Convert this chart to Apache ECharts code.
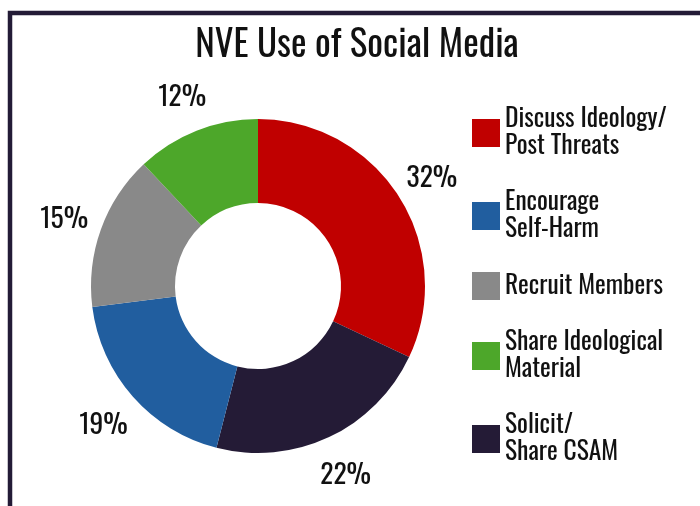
<!DOCTYPE html>
<html>
<head>
<meta charset="utf-8">
<script src="https://cdn.jsdelivr.net/npm/echarts@6/dist/echarts.min.js"></script>
<style>
  html, body { margin: 0; padding: 0; background: #ffffff; }
  #chart { width: 700px; height: 506px; }
</style>
</head>
<body>
<div id="chart"></div>
<script>
// Share of each activity, clockwise from 12 o'clock
const categories = [
  'Discuss Ideology/\nPost Threats',
  'Solicit/\nShare CSAM',
  'Encourage\nSelf-Harm',
  'Recruit Members',
  'Share Ideological\nMaterial'
];
const shares = [32, 22, 19, 15, 12];
const sliceColors = ['#c00000', '#241b36', '#215e9f', '#898989', '#4da72a'];

// Order in which the legend lists the categories
const legendOrder = [
  'Discuss Ideology/\nPost Threats',
  'Encourage\nSelf-Harm',
  'Recruit Members',
  'Share Ideological\nMaterial',
  'Solicit/\nShare CSAM'
];

const chartTitle = 'NVE Use of Social Media';
const FONT = 'Oswald, "Roboto Condensed", "Liberation Sans", sans-serif';
const CENTER = [258, 286];

const pieData = categories.map((name, i) => ({
  name: name,
  value: shares[i],
  itemStyle: { color: sliceColors[i] }
}));

const chart = echarts.init(document.getElementById('chart'), null, { renderer: 'canvas' });

chart.setOption({
  backgroundColor: '#ffffff',
  animation: false,
  title: {
    text: chartTitle,
    left: 357,
    textAlign: 'center',
    top: 27,
    padding: 0,
    textStyle: {
      fontFamily: FONT,
      fontWeight: 400,
      fontSize: 37,
      color: '#111111'
    }
  },
  graphic: [
    {
      // frame along the top and left edges
      type: 'rect',
      shape: { x: 10, y: 13, width: 900, height: 700 },
      style: { fill: 'none', stroke: '#231b36', lineWidth: 4.5 },
      silent: true,
      z: 0
    }
  ],
  legend: {
    orient: 'vertical',
    left: 472,
    top: 106,
    padding: 0,
    data: legendOrder,
    icon: 'rect',
    itemWidth: 28,
    itemHeight: 28,
    itemGap: 29,
    selectedMode: false,
    textStyle: {
      fontFamily: FONT,
      fontWeight: 400,
      fontSize: 25.5,
      lineHeight: 27,
      color: '#111111'
    }
  },
  series: [
    {
      type: 'pie',
      center: CENTER,
      radius: [83, 167],
      startAngle: 90,
      clockwise: true,
      avoidLabelOverlap: false,
      label: { show: false },
      labelLine: { show: false },
      emphasis: { disabled: true },
      itemStyle: { borderWidth: 0 },
      data: pieData
    },
    {
      // invisible ring that carries the percentage labels just outside the donut
      type: 'pie',
      center: CENTER,
      radius: [198, 208],
      startAngle: 90,
      clockwise: true,
      silent: true,
      legendHoverLink: false,
      avoidLabelOverlap: false,
      emphasis: { disabled: true },
      itemStyle: { color: 'rgba(0,0,0,0)', borderWidth: 0 },
      labelLine: { show: false },
      label: {
        show: true,
        position: 'inside',
        formatter: '{c}%',
        offset: [0, 3],
        fontFamily: FONT,
        fontWeight: 400,
        fontSize: 27.5,
        color: '#111111'
      },
      data: categories.map((name, i) => ({ name: name, value: shares[i] }))
    }
  ]
});
</script>
</body>
</html>
